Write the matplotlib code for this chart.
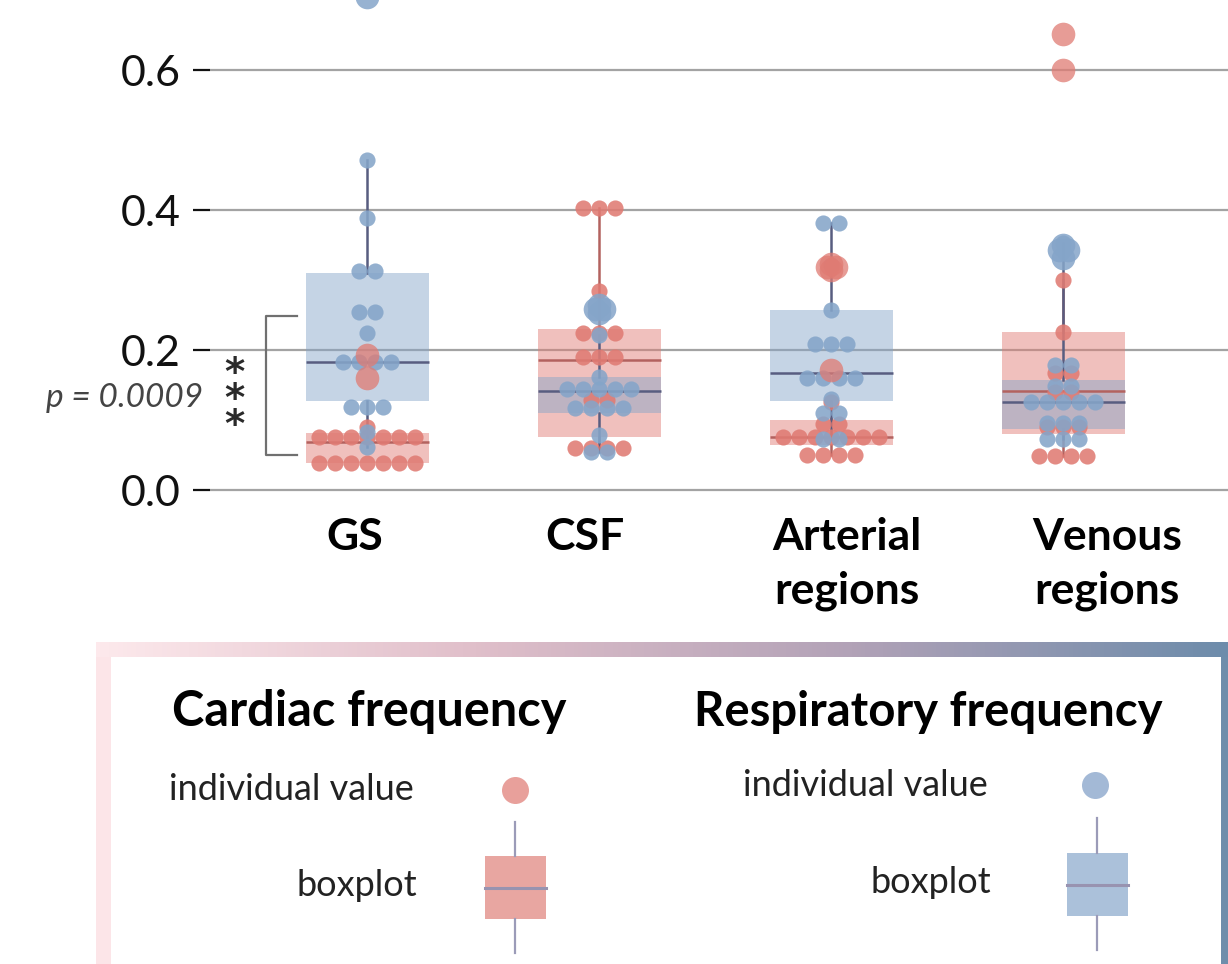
import numpy as np
import matplotlib.pyplot as plt
from matplotlib.patches import Rectangle
from matplotlib.colors import LinearSegmentedColormap
from matplotlib.transforms import blended_transform_factory

plt.rcParams['font.family'] = ['Lato', 'DejaVu Sans']

# ---- data ----
categories = ["GS", "CSF", "Arterial\nregions", "Venous\nregions"]
label_x = [-0.054, 0.94, 2.07, 3.19]

cardiac_pts = [
    [0.039] * 7 + [0.076] * 7 + [0.09],
    [0.403] * 3 + [0.284] + [0.224] * 3 + [0.19] * 3 + [0.129] * 2 + [0.06] * 4,
    [0.126] + [0.094] * 2 + [0.076] * 7 + [0.05] * 4,
    [0.3, 0.226] + [0.167] * 2 + [0.14] * 2 + [0.09] * 3 + [0.049] * 4,
]
cardiac_out = [
    [0.193, 0.16],
    [],
    [0.171, 0.323, 0.319, 0.319, 0.314],
    [0.651, 0.6],
]
resp_pts = [
    [0.471, 0.389, 0.313, 0.313, 0.254, 0.254, 0.224] + [0.183] * 4 + [0.119] * 3 + [0.083, 0.061],
    [0.221, 0.161] + [0.145] * 5 + [0.117] * 4 + [0.079] + [0.054] * 2,
    [0.381] * 2 + [0.321, 0.257] + [0.209] * 3 + [0.16] * 4 + [0.13] + [0.11] * 2 + [0.073] * 2,
    [0.353] + [0.179] * 2 + [0.149] * 2 + [0.126] * 5 + [0.096] * 3 + [0.073] * 3,
]
resp_out = [
    [0.705],
    [0.264, 0.258, 0.258, 0.253],
    [],
    [0.35, 0.343, 0.343, 0.331],
]

# box stats: q1, median, q3, lower whisker, upper whisker
cardiac_q1 = [0.039, 0.076, 0.064, 0.08]
cardiac_med = [0.069, 0.186, 0.076, 0.141]
cardiac_q3 = [0.081, 0.23, 0.1, 0.226]
cardiac_lo = [0.039, 0.06, 0.05, 0.049]
cardiac_hi = [0.09, 0.403, 0.126, 0.3]

resp_q1 = [0.127, 0.11, 0.127, 0.087]
resp_med = [0.183, 0.141, 0.167, 0.126]
resp_q3 = [0.31, 0.161, 0.257, 0.157]
resp_lo = [0.061, 0.054, 0.073, 0.073]
resp_hi = [0.471, 0.221, 0.381, 0.353]

p_text = "p = 0.0009"

RED = '#e07b73'
BLUE = '#85a5c9'
RED_LINE = '#b3625f'
BLUE_LINE = '#585d80'


def spread(vals, gap):
    # put equal values side by side, centred on the category
    xs, ys = [], []
    uniq, counts = np.unique(np.round(vals, 4), return_counts=True)
    for u, n in zip(uniq, counts):
        offs = (np.arange(n) - (n - 1) / 2) * gap
        xs.extend(offs)
        ys.extend([u] * n)
    return np.array(xs), np.array(ys)


fig = plt.figure(figsize=(12.28, 9.64), dpi=100)

# overlay axes in pixel units for the legend panel
lax = fig.add_axes([0, 0, 1, 1])
ax = fig.add_axes([210 / 1228, 1 - 500 / 964, 1 - 210 / 1228, 500 / 964])

pos = np.arange(len(categories))

# boxes
def draw_boxes(q1, med, q3, lo, hi, color, line):
    stats = [dict(q1=a, med=b, q3=c, whislo=d, whishi=e, fliers=[])
             for a, b, c, d, e in zip(q1, med, q3, lo, hi)]
    ax.bxp(stats, positions=pos, widths=0.53, patch_artist=True, showcaps=False,
           showfliers=False,
           boxprops=dict(facecolor=color, alpha=0.47, linewidth=0),
           medianprops=dict(color=line, linewidth=1.8),
           whiskerprops=dict(color=line, linewidth=1.8), manage_ticks=False)

draw_boxes(cardiac_q1, cardiac_med, cardiac_q3, cardiac_lo, cardiac_hi, RED, RED_LINE)
draw_boxes(resp_q1, resp_med, resp_q3, resp_lo, resp_hi, BLUE, BLUE_LINE)

gap = 16 / 232
gap_out = 9 / 232
for i in pos:
    dx, dy = spread(cardiac_pts[i], gap)
    ax.scatter(i + dx, dy, s=135, color=RED, alpha=0.88, lw=0, zorder=4)
for i in pos:
    dx, dy = spread(resp_pts[i], gap)
    ax.scatter(i + dx, dy, s=135, color=BLUE, alpha=0.88, lw=0, zorder=5)
for i in pos:
    if cardiac_out[i]:
        dx, dy = spread(cardiac_out[i], gap_out)
        ax.scatter(i + dx, dy, s=290, color=RED, alpha=0.75, lw=0, zorder=6)
    if resp_out[i]:
        dx, dy = spread(resp_out[i], gap_out)
        ax.scatter(i + dx, dy, s=290, color=BLUE, alpha=0.85, lw=0, zorder=6)

ax.set_xlim(-0.677, 3.711)
ax.set_ylim(-10 / 700, 0.7)
ax.set_yticks([0, 0.2, 0.4, 0.6])
ax.set_yticklabels(["0.0", "0.2", "0.4", "0.6"])
ax.set_xticks([])
ax.yaxis.grid(True, color='#a3a3a3', linewidth=1.6)
ax.set_axisbelow(True)
ax.tick_params(axis='y', length=12, width=1.6, color='#111111', pad=9,
               labelsize=31, labelcolor='#111111')
for s in ax.spines.values():
    s.set_visible(False)
ax.patch.set_alpha(0)

# category labels
tr = blended_transform_factory(ax.transData, ax.transAxes)
for x, c in zip(label_x, categories):
    ax.text(x, -0.034, c, transform=tr, ha='center', va='top', fontsize=32,
            fontweight='bold', linespacing=1.42, clip_on=False)

# significance bracket on GS
ax.plot([-0.302, -0.435, -0.435, -0.302], [0.249, 0.249, 0.05, 0.05],
        color='#707070', lw=1.6, clip_on=False, zorder=3)
ax.text(-0.573, 0.128, "*\n*\n*", ha='center', va='center', fontsize=28,
        fontweight='bold', color='#2a2a2a', family='DejaVu Sans',
        linespacing=0.6)
ax.text(-0.705, 0.131, p_text, ha='right', va='center', fontsize=24,
        style='italic', color='#444444', clip_on=False)

# ---- legend panel ----
cmap = LinearSegmentedColormap.from_list('g', ['#fde9ec', '#e0bfca', '#b2a2b7', '#6d8cab'])
lax.imshow(np.linspace(0, 1, 256)[None, :], cmap=cmap, aspect='auto',
           extent=[96, 1228, 657, 642])
lax.add_patch(Rectangle((96, 657), 15, 964 - 657, color='#fce5e8', lw=0))
lax.add_patch(Rectangle((1221, 657), 7, 964 - 657, color='#6e8dab', lw=0))

def legend_group(cx_title, title, fs, txt_right, y_dot, dot_x, dot_color,
                 box_x, box_top, box_bot, whisk_top, whisk_bot, box_color):
    lax.text(cx_title, 712, title, ha='center', va='center', fontsize=fs,
             fontweight='bold', color='black')
    lax.text(txt_right, y_dot, "individual value", ha='right', va='center',
             fontsize=26, color='#222222')
    lax.scatter([dot_x], [y_dot], s=378, color=dot_color, lw=0)
    mid = (box_top + box_bot) / 2
    lax.plot([box_x, box_x], [whisk_top, box_top], color='#9b9bb8', lw=1.6)
    lax.plot([box_x, box_x], [box_bot, whisk_bot], color='#9b9bb8', lw=1.6)
    lax.add_patch(Rectangle((box_x - 30.5, box_top), 61, box_bot - box_top,
                            color=box_color, lw=0))
    lax.plot([box_x - 30.5, box_x + 30.5], [mid, mid], color='#9893b0', lw=2.2)
    lax.text(txt_right + 3, mid - 2, "boxplot", ha='right', va='center',
             fontsize=26, color='#222222')

legend_group(369, "Cardiac frequency", 35, 414, 790, 515, '#e8a09b',
             515, 856, 919, 822, 953, '#e8a6a1')
legend_group(928, "Respiratory frequency", 34, 988, 785, 1095, '#a3b9d6',
             1097, 853, 916, 818, 950, '#abc1da')

lax.set_xlim(0, 1228)
lax.set_ylim(964, 0)
lax.axis('off')

fig.savefig("out.png", dpi=100)
